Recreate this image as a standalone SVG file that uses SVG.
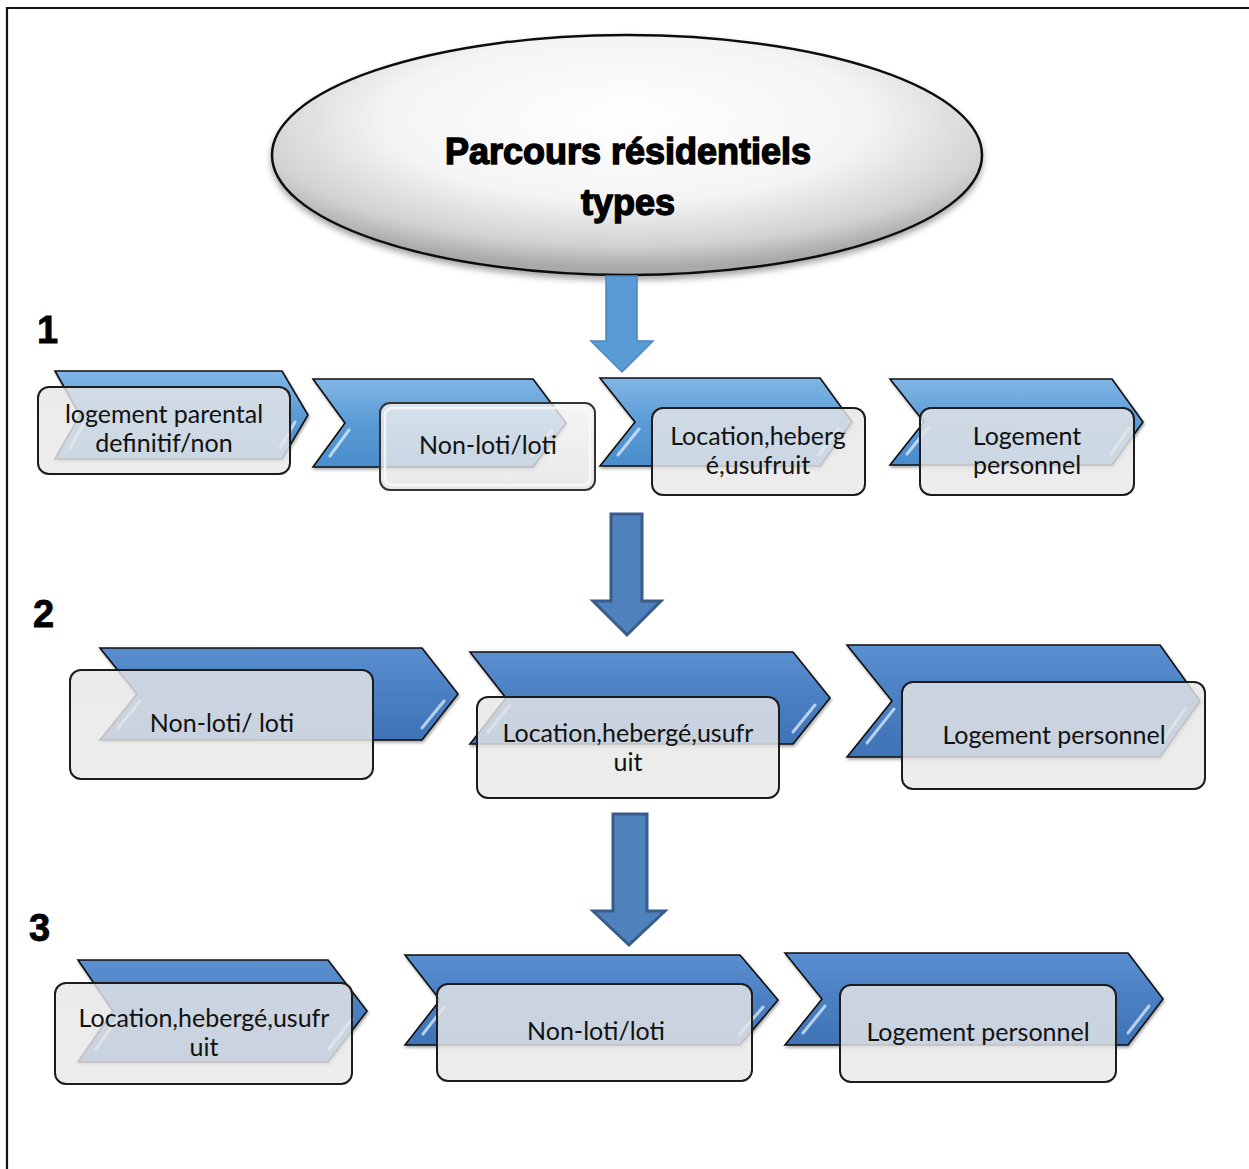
<svg xmlns="http://www.w3.org/2000/svg" width="1249" height="1169" viewBox="0 0 1249 1169">
<defs>
<style>
.frame{stroke:#111;stroke-width:2.2;fill:none}
.chev1{fill:url(#blueLight);stroke:#111;stroke-width:1.6;stroke-linejoin:miter;filter:url(#sh)}
.chev2{fill:url(#blueDark);stroke:#111;stroke-width:1.6;stroke-linejoin:miter;filter:url(#sh)}
.hl{stroke:#e8f4ff;stroke-width:3;stroke-linecap:round;opacity:0.7;fill:none}
.box{fill:url(#boxGrad);fill-opacity:0.82;stroke:#1c1c1c;stroke-width:2}
.glass{fill:url(#glassGrad);fill-opacity:0.8;stroke:#333;stroke-width:2}
.lbl{font-family:Lato,"Liberation Sans",sans-serif;font-size:25px;fill:#111;text-anchor:middle}
.num{font-family:"Liberation Sans",Arial,sans-serif;font-weight:bold;font-size:38px;fill:#000;stroke:#000;stroke-width:0.8}
.title{font-family:"Liberation Sans",Arial,sans-serif;font-weight:900;font-size:36px;fill:#000;text-anchor:middle;stroke:#000;stroke-width:1.4}
.arr1{fill:#5b9bd5;stroke:#4a86c0;stroke-width:1.5}
.arr2{fill:#4f81bd;stroke:#385d8a;stroke-width:3}
</style>
<linearGradient id="blueLight" x1="0" y1="0" x2="0" y2="1">
<stop offset="0" stop-color="#80b6e6"/>
<stop offset="0.5" stop-color="#5b9bd5"/>
<stop offset="1" stop-color="#4a8ccc"/>
</linearGradient>
<linearGradient id="blueDark" x1="0" y1="0" x2="0" y2="1">
<stop offset="0" stop-color="#5a8fd0"/>
<stop offset="0.5" stop-color="#4a7fc2"/>
<stop offset="1" stop-color="#3e73b6"/>
</linearGradient>
<linearGradient id="boxGrad" x1="0" y1="0" x2="0" y2="1">
<stop offset="0" stop-color="#e6e6e6"/>
<stop offset="1" stop-color="#e9e9e9"/>
</linearGradient>
<linearGradient id="glassGrad" x1="0" y1="0" x2="0" y2="1">
<stop offset="0" stop-color="#f2f2f2"/>
<stop offset="1" stop-color="#e4e4e4"/>
</linearGradient>
<radialGradient id="ellGrad" cx="0.5" cy="0.35" r="0.62">
<stop offset="0" stop-color="#ffffff"/>
<stop offset="0.55" stop-color="#f4f4f4"/>
<stop offset="0.85" stop-color="#d2d2d2"/>
<stop offset="1" stop-color="#a9a9a9"/>
</radialGradient>
<filter id="sh" x="-10%" y="-10%" width="120%" height="130%">
<feDropShadow dx="1" dy="2" stdDeviation="1.5" flood-color="#000" flood-opacity="0.35"/>
</filter>
<filter id="esh" x="-10%" y="-10%" width="120%" height="130%">
<feDropShadow dx="0" dy="4" stdDeviation="3" flood-color="#000" flood-opacity="0.35"/>
</filter>
</defs>
<rect width="1249" height="1169" fill="#fff"/>
<path class="frame" d="M7,1169 L7,8 L1249,8"/>

<g id="title">
<ellipse cx="627" cy="155" rx="355" ry="120" fill="url(#ellGrad)" stroke="#111" stroke-width="2.5" filter="url(#esh)"/>
<text class="title" x="628" y="164">Parcours résidentiels</text>
<text class="title" x="628" y="215">types</text>
</g>

<g id="numbers">
<text class="num" x="37" y="343">1</text>
<text class="num" x="33" y="627">2</text>
<text class="num" x="29" y="941">3</text>
</g>

<g id="connectors">
<polygon class="arr1" points="606,276 637,276 637,341 653,341 622,372 591,341 606,341"/>
<polygon class="arr2" points="611,514 642,514 642,601 661,601 627,635 593,601 611,601"/>
<polygon class="arr2" points="613,814 647,814 647,911 665,911 629,945 593,911 613,911"/>
</g>

<g id="r1n1">
<polygon class="chev1" points="55,371 282,371 308,415 282,459 55,459 80,415"/>
<path class="hl" d="M295,422 L280,448 M85,422 L70,448"/>
<rect class="box" x="38" y="387" width="252" height="87" rx="11"/>
<text class="lbl" x="164" y="423">logement parental</text>
<text class="lbl" x="164" y="452">definitif/non</text>
</g>

<g id="r1n2">
<polygon class="chev1" points="313,379 533,379 566,423 533,467 313,467 345,423"/>
<path class="hl" d="M552,430 L532,456 M349,430 L330,456"/>
<rect class="glass" x="380" y="403" width="215" height="87" rx="10"/>
<rect x="385" y="408" width="205" height="77" rx="7" fill="none" stroke="#fafafa" stroke-width="2.5" opacity="0.8"/>
<text class="lbl" x="488" y="454">Non-loti/loti</text>
</g>

<g id="r1n3">
<polygon class="chev1" points="600,378 820,378 852,422 820,466 600,466 635,422"/>
<path class="hl" d="M838,429 L819,455 M639,429 L618,455"/>
<rect class="box" x="652" y="408" width="213" height="87" rx="11"/>
<text class="lbl" x="758" y="445">Location,heberg</text>
<text class="lbl" x="758" y="474">é,usufruit</text>
</g>

<g id="r1n4">
<polygon class="chev1" points="890,379 1112,379 1143,422 1112,465 890,465 924,422"/>
<path class="hl" d="M1129,428 L1111,454 M928,428 L907,454"/>
<rect class="box" x="920" y="408" width="214" height="87" rx="11"/>
<text class="lbl" x="1027" y="445">Logement</text>
<text class="lbl" x="1027" y="474">personnel</text>
</g>

<g id="r2n1">
<polygon class="chev2" points="100,648 422,648 458,694 422,740 100,740 137,694"/>
<path class="hl" d="M444,701 L422,728 M140,701 L118,728"/>
<rect class="box" x="70" y="670" width="303" height="109" rx="11"/>
<text class="lbl" x="222" y="732">Non-loti/ loti</text>
</g>

<g id="r2n2">
<polygon class="chev2" points="470,652 793,652 830,698 793,744 470,744 506,698"/>
<path class="hl" d="M815,705 L793,732 M510,705 L488,732"/>
<rect class="box" x="477" y="697" width="302" height="101" rx="11"/>
<text class="lbl" x="628" y="742">Location,hebergé,usufr</text>
<text class="lbl" x="628" y="771">uit</text>
</g>

<g id="r2n3">
<polygon class="chev2" points="847,645 1160,645 1200,701 1160,757 847,757 892,701"/>
<path class="hl" d="M1185,709 L1161,743 M894,709 L867,743"/>
<rect class="box" x="902" y="682" width="303" height="107" rx="11"/>
<text class="lbl" x="1054" y="744">Logement personnel</text>
</g>

<g id="r3n1">
<polygon class="chev2" points="78,960 328,960 367,1011 328,1062 78,1062 113,1011"/>
<path class="hl" d="M352,1019 L329,1049 M117,1019 L96,1049"/>
<rect class="box" x="55" y="983" width="297" height="101" rx="11"/>
<text class="lbl" x="204" y="1027">Location,hebergé,usufr</text>
<text class="lbl" x="204" y="1056">uit</text>
</g>

<g id="r3n2">
<polygon class="chev2" points="405,955 740,955 778,1000 740,1045 405,1045 440,1000"/>
<path class="hl" d="M763,1007 L740,1034 M444,1007 L423,1034"/>
<rect class="box" x="437" y="984" width="315" height="97" rx="11"/>
<text class="lbl" x="596" y="1040">Non-loti/loti</text>
</g>

<g id="r3n3">
<polygon class="chev2" points="785,953 1128,953 1163,999 1128,1045 785,1045 822,999"/>
<path class="hl" d="M1149,1006 L1128,1033 M825,1006 L803,1033"/>
<rect class="box" x="840" y="985" width="276" height="97" rx="11"/>
<text class="lbl" x="978" y="1041">Logement personnel</text>
</g>
</svg>
